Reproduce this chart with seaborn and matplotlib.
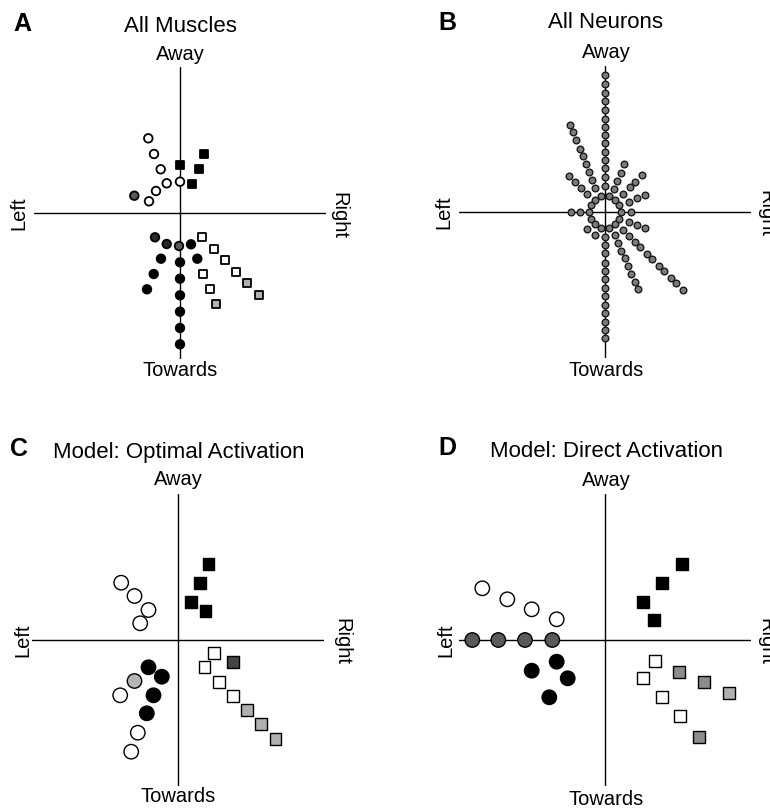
import numpy as np
import pandas as pd
import matplotlib
matplotlib.use('Agg')
import matplotlib.pyplot as plt
import seaborn as sns

# point coordinates, in pixels from each panel's origin (y up)
# panel A: all muscles
a_open_circle_x = [-31.7, -26, -19.3, -13.3, 0, -24, -31]
a_open_circle_y = [74.7, 59, 43.7, 29.7, 31.3, 22, 11.7]
a_gray_circle_x = [-45.7, -1]
a_gray_circle_y = [17.3, -33]
a_dark_circle_x = [-25, -13.3]
a_dark_circle_y = [-24.3, -31]
a_black_circle_x = [11, -19, 17.3, -26.3, -33, 0, 0, 0, 0, 0, 0]
a_black_circle_y = [-31.3, -45.7, -45.7, -61, -76.3, -49.3, -65.7, -82.3, -98.7, -115, -131.3]
a_black_square_x = [24.3, 0, 18.7, 12]
a_black_square_y = [59.3, 48.3, 44, 29.3]
a_open_square_x = [21.7, 33.7, 45, 56.3, 23.3, 30]
a_open_square_y = [-24, -35.7, -47.3, -58.7, -61, -76]
a_light_square_x = [67.3, 79.3, 36.3]
a_light_square_y = [-70.3, -82, -91]

# panel B: all neurons, a ring of dots plus rays (angle in degrees, radii in px)
b_ring_angles = [0, 26, 51, 77, 103, 129, 154, 180, 206, 231, 257, 283, 309, 334]
b_ring_radius = 16
b_ray_angles = [90, 270, 112, 135, 180, 223, 246, 68, 45, 23, 0, -22, -45, -67]
b_ray_radii = [
    [26, 35, 44, 52, 60, 69, 77, 85, 93, 102, 111, 119, 128, 137],
    [25, 33, 41, 51, 59, 67, 76, 84, 93, 101, 110, 118, 126],
    [26, 35, 43, 52, 60, 68, 78, 86, 94],
    [25, 34, 43, 51],
    [25, 34],
    [25],
    [25],
    [25, 33, 42, 52],
    [26, 35, 43, 52],
    [26, 35, 43],
    [26],
    [26, 35, 43],
    [25, 34, 42, 50, 59, 67, 76, 84, 93, 101, 110],
    [25, 34, 42, 50, 59, 67, 76, 84],
]

# panel C: model, optimal activation
c_open_circle_x = [-56.8, -43.5, -29.5, -37.8, -57.8, -40.2, -46.8]
c_open_circle_y = [57.3, 44, 30, 16.7, -55.3, -92.7, -111.7]
c_light_circle_x = [-43.5]
c_light_circle_y = [-41]
c_black_circle_x = [-29.5, -16.2, -24.5, -31.2]
c_black_circle_y = [-27.3, -36.7, -55.3, -73.3]
c_black_square_x = [30.5, 21.8, 13.2, 27.5]
c_black_square_y = [76, 57.3, 38.3, 29]
c_open_square_x = [35.8, 26.5, 40.8, 54.8]
c_open_square_y = [-13.3, -27.3, -42, -55.7]
c_dark_square_x = [54.8]
c_dark_square_y = [-22.3]
c_light_square_x = [68.8, 83.2, 97.5]
c_light_square_y = [-70, -84, -99.3]

# panel D: model, direct activation
d_open_circle_x = [-122.7, -97.7, -73.3, -48.3]
d_open_circle_y = [51.7, 40.7, 30.7, 20.7]
d_gray_circle_x = [-132.7, -106.7, -80, -52.7]
d_gray_circle_y = [0, 0, 0, 0]
d_black_circle_x = [-48.3, -73.3, -37.3, -55.7]
d_black_circle_y = [-21.7, -30.7, -38.3, -57.3]
d_black_square_x = [76.7, 57.3, 38.3, 49.3]
d_black_square_y = [76, 56.7, 37.7, 20]
d_open_square_x = [50, 37.7, 56.7, 75]
d_open_square_y = [-21, -38.3, -57.3, -76]
d_gray_square_x = [74, 99.3, 94.3]
d_gray_square_y = [-31.7, -42.3, -96.7]
d_light_square_x = [124]
d_light_square_y = [-52.7]


def frame(groups):
    parts = [pd.DataFrame({'x': x, 'y': y, 'kind': k}) for k, x, y in groups]
    return pd.concat(parts, ignore_index=True)


df_a = frame([
    ('open_circle', a_open_circle_x, a_open_circle_y),
    ('gray_circle', a_gray_circle_x, a_gray_circle_y),
    ('dark_circle', a_dark_circle_x, a_dark_circle_y),
    ('black_circle', a_black_circle_x, a_black_circle_y),
    ('black_square', a_black_square_x, a_black_square_y),
    ('open_square', a_open_square_x, a_open_square_y),
    ('light_square', a_light_square_x, a_light_square_y),
])
df_c = frame([
    ('open_circle', c_open_circle_x, c_open_circle_y),
    ('light_circle', c_light_circle_x, c_light_circle_y),
    ('black_circle', c_black_circle_x, c_black_circle_y),
    ('black_square', c_black_square_x, c_black_square_y),
    ('open_square', c_open_square_x, c_open_square_y),
    ('dark_square', c_dark_square_x, c_dark_square_y),
    ('light_square', c_light_square_x, c_light_square_y),
])
df_d = frame([
    ('open_circle', d_open_circle_x, d_open_circle_y),
    ('gray_circle', d_gray_circle_x, d_gray_circle_y),
    ('black_circle', d_black_circle_x, d_black_circle_y),
    ('black_square', d_black_square_x, d_black_square_y),
    ('open_square', d_open_square_x, d_open_square_y),
    ('gray_square', d_gray_square_x, d_gray_square_y),
    ('light_square', d_light_square_x, d_light_square_y),
])

# B: polar readings -> x, y
b_r = [b_ring_radius] * len(b_ring_angles)
b_t = list(b_ring_angles)
for ang, radii in zip(b_ray_angles, b_ray_radii):
    b_r += radii
    b_t += [ang] * len(radii)
b_r = np.array(b_r, dtype=float)
b_t = np.deg2rad(np.array(b_t, dtype=float))
df_b = pd.DataFrame({'x': b_r * np.cos(b_t), 'y': b_r * np.sin(b_t)})

fills = {
    'open_circle': 'white', 'gray_circle': '#5a5a5a', 'dark_circle': '#2a2a2a',
    'light_circle': '#b5b5b5', 'black_circle': 'black', 'black_square': 'black',
    'open_square': 'white', 'dark_square': '#444444', 'gray_square': '#8c8c8c',
    'light_square': '#b0b0b0',
}
shapes = {k: ('o' if k.endswith('circle') else 's') for k in fills}

sns.set_theme(style='white')
plt.rcParams['font.family'] = ['Liberation Sans', 'DejaVu Sans']

W, H = 770, 810
fig = plt.figure(figsize=(W / 100, H / 100), dpi=100)
HALF = 146


def make_axes(ox, oy):
    ax = fig.add_axes([(ox - HALF) / W, (H - oy - HALF) / H, 2 * HALF / W, 2 * HALF / H])
    ax.set_xlim(-HALF, HALF)
    ax.set_ylim(-HALF, HALF)
    ax.axhline(0, color='black', lw=1.0, zorder=1)
    ax.axvline(0, color='black', lw=1.0, zorder=1)
    ax.axis('off')
    return ax


def draw_panel(ax, df, circle_s, square_s, lw):
    kinds = list(df['kind'].unique())
    sns.scatterplot(data=df, x='x', y='y', hue='kind', style='kind', size='kind',
                    hue_order=kinds, style_order=kinds, size_order=kinds,
                    palette={k: fills[k] for k in kinds},
                    markers={k: shapes[k] for k in kinds},
                    sizes={k: (circle_s if shapes[k] == 'o' else square_s) for k in kinds},
                    edgecolor='black', linewidth=lw, legend=False, ax=ax, zorder=3,
                    clip_on=False)


def label(x, y, s, size=14.5, **kw):
    fig.text(x / W, 1 - y / H, s, fontsize=size, color='black', **kw)


ax_a = make_axes(180, 213)
draw_panel(ax_a, df_a, 38, 30, 1.3)

ax_b = make_axes(605, 212)
sns.scatterplot(data=df_b, x='x', y='y', color='#7c7c7c', edgecolor='#1a1a1a',
                linewidth=1.0, s=23, legend=False, ax=ax_b, zorder=3, clip_on=False)

ax_c = make_axes(178, 640)
draw_panel(ax_c, df_c, 108, 70, 1.0)

ax_d = make_axes(605, 640)
draw_panel(ax_d, df_d, 108, 70, 1.0)

# panel letters and titles
label(22, 31, 'A', size=18, weight='bold', ha='center', va='baseline')
label(180, 31.5, 'All Muscles', size=16, ha='center', va='baseline')
label(447, 30, 'B', size=18, weight='bold', ha='center', va='baseline')
label(606, 28, 'All Neurons', size=16, ha='center', va='baseline')
label(19, 456, 'C', size=18, weight='bold', ha='center', va='baseline')
label(179, 458, 'Model: Optimal Activation', size=16, ha='center', va='baseline')
label(447, 455, 'D', size=18, weight='bold', ha='center', va='baseline')
label(606, 457, 'Model: Direct Activation', size=16, ha='center', va='baseline')

# direction labels around each cross; the right-hand ones on B and D run
# off the edge of the page, as in the original figure
for ox, oy, away_y, tow_y, left_x, right_x in [
        (180, 213, 59.5, 376.5, 19, 339),
        (606, 212, 58.5, 376, 444, 766),
        (178, 640, 485, 802, 23, 342),
        (606, 640, 486.5, 805, 446, 766)]:
    label(ox, away_y, 'Away', ha='center', va='baseline')
    label(ox, tow_y, 'Towards', ha='center', va='baseline')
    label(left_x, oy, 'Left', rotation=90, ha='center', va='center')
    label(right_x, oy + 2, 'Right', rotation=270, ha='center', va='center')

fig.savefig('out.png', dpi=100)
